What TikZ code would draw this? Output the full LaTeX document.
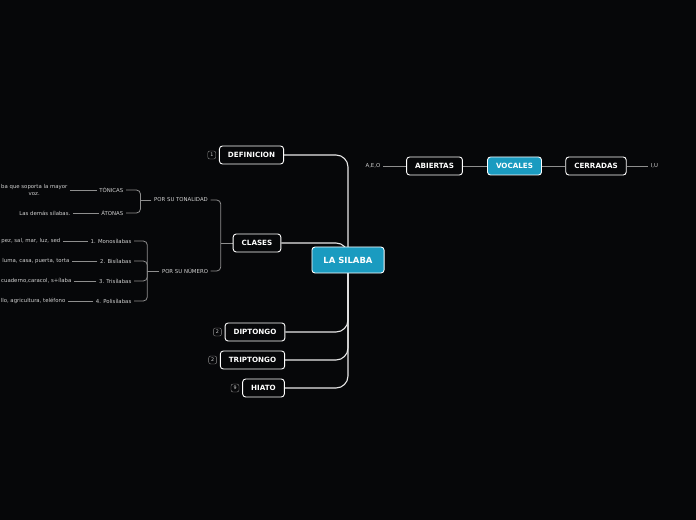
\documentclass[tikz,border=0pt]{standalone}
\usepackage{fontspec}
\setmainfont{DejaVu Sans}
\usetikzlibrary{positioning,backgrounds}
\definecolor{PageBg}{HTML}{060709}
\definecolor{TopicTeal}{HTML}{1A9BC0}
\definecolor{LineGray}{HTML}{8E8E8E}
\definecolor{LabelGray}{HTML}{D0D0D0}
\definecolor{TrunkWhite}{HTML}{E8E8E8}
\tikzset{
  topic/.style={rectangle,rounded corners=3bp,draw=white,line width=0.9bp,
                fill=PageBg,text=white,inner xsep=8.5bp,minimum height=18bp,
                font=\fontsize{7.2}{8}\selectfont\bfseries},
  rootT/.style={topic,fill=TopicTeal,inner xsep=11.5bp,minimum height=26bp,
                font=\fontsize{8.5}{10}\selectfont\bfseries},
  vocT/.style={topic,fill=TopicTeal},
  sub/.style={font=\fontsize{5.4}{6.4}\selectfont,text=LabelGray,inner sep=2.5bp},
  leaf/.style={sub,anchor=east,align=center},
  item/.style={sub,anchor=east},
  tag/.style={draw=LineGray,rounded corners=2bp,minimum size=8bp,inner sep=0.5bp,
              font=\fontsize{4.8}{5}\selectfont,text=LabelGray},
  link/.style={draw=LineGray,line width=0.8bp},
  brk/.style={link,rounded corners=4bp},
  trunk/.style={draw=TrunkWhite,line width=1.1bp,rounded corners=12bp}
}
\begin{document}
\begin{tikzpicture}[x=1bp,y=-1bp]
  \useasboundingbox (0,0) rectangle (696,520);

  % Central topic and main branches
  \node[rootT] (root) at (348,260) {LA SILABA};
  \node[topic] (def) at (251.5,155) {DEFINICION};
  \node[topic] (clases) at (257,243) {CLASES};
  \node[topic] (dipt) at (255,332) {DIPTONGO};
  \node[topic] (tript) at (252.5,360) {TRIPTONGO};
  \node[topic] (hiato) at (263.5,388) {HIATO};

  \node[tag,left=3bp of def] (tagdef) {1};
  \node[tag,left=3bp of dipt] (tagdipt) {2};
  \node[tag,left=3bp of tript] (tagtript) {2};
  \node[tag,left=3bp of hiato] (taghiato) {9};

  % Vocales
  \node[topic] (abiertas) at (434.5,166) {ABIERTAS};
  \node[vocT] (vocales) at (514.5,166) {VOCALES};
  \node[topic] (cerradas) at (596,166) {CERRADAS};
  \node[sub,anchor=east] (aeo) at (383,166) {A,E,O};
  \node[sub,anchor=west] (iu) at (648,166) {I,U};

  % Clases
  \node[sub] (tonal) at (181,200) {POR SU TONALIDAD};
  \node[sub] (numero) at (185,271) {POR SU NÚMERO};
  \node[item] (tonicas) at (126,190) {TÓNICAS};
  \node[item] (atonas) at (126,213) {ÁTONAS};
  \node[item] (mono) at (134,241) {1. Monosílabas};
  \node[item] (bisil) at (134,261) {2. Bisílabas};
  \node[item] (trisil) at (134,281) {3. Trisílabas};
  \node[item] (polis) at (134,301) {4. Polisílabas};

  \node[leaf] (lftonicas) at (70,190) {ba que soporta la mayor\\voz.};
  \node[leaf] (lfatonas) at (73,213) {Las demás sílabas.};
  \node[leaf] (lfmono) at (63,241) {pez, sal, mar, luz, sed};
  \node[leaf] (lfbisil) at (72,261) {luma, casa, puerta, torta};
  \node[leaf] (lftrisil) at (74,281) {cuaderno,caracol, s+ílaba};
  \node[leaf] (lfpolis) at (68,301) {llo, agricultura, teléfono};

  \coordinate (jclases) at ([xshift=-12bp]clases.west);
  \coordinate (jtonal) at ([xshift=-11bp]tonal.west);
  \coordinate (jnumero) at ([xshift=-12bp]numero.west);

  \begin{scope}[on background layer]
    \fill[PageBg] (0,0) rectangle (696,520);
    \draw[trunk] (root.center) |- (def.east);
    \draw[trunk] (root.center) |- (clases.east);
    \draw[trunk] (root.center) |- (dipt.east);
    \draw[trunk] (root.center) |- (tript.east);
    \draw[trunk] (root.center) |- (hiato.east);

    \draw[link] (aeo) -- (abiertas);
    \draw[link] (abiertas) -- (vocales);
    \draw[link] (vocales) -- (cerradas);
    \draw[link] (cerradas) -- (iu);

    \draw[link] (clases.west) -- (jclases);
    \draw[brk] (jclases) |- (tonal.east);
    \draw[brk] (jclases) |- (numero.east);
    \draw[link] (tonal.west) -- (jtonal);
    \draw[brk] (jtonal) |- (tonicas.east);
    \draw[brk] (jtonal) |- (atonas.east);
    \draw[link] (numero.west) -- (jnumero);
    \draw[brk] (jnumero) |- (mono.east);
    \draw[brk] (jnumero) |- (bisil.east);
    \draw[brk] (jnumero) |- (trisil.east);
    \draw[brk] (jnumero) |- (polis.east);

    \draw[link] (tonicas.west) -- (lftonicas.east);
    \draw[link] (atonas.west) -- (lfatonas.east);
    \draw[link] (mono.west) -- (lfmono.east);
    \draw[link] (bisil.west) -- (lfbisil.east);
    \draw[link] (trisil.west) -- (lftrisil.east);
    \draw[link] (polis.west) -- (lfpolis.east);
  \end{scope}
\end{tikzpicture}
\end{document}
